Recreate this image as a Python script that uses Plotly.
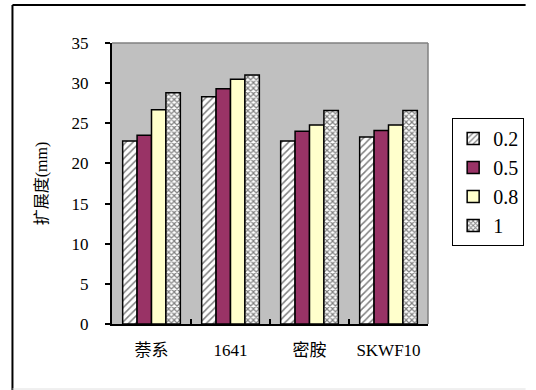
import plotly.graph_objects as go

# Spread (mm) by admixture type and dosage
categories = ["萘系", "1641", "密胺", "SKWF10"]
dosages = ["0.2", "0.5", "0.8", "1"]
spread_02 = [22.8, 28.3, 22.8, 23.3]
spread_05 = [23.5, 29.3, 24.0, 24.1]
spread_08 = [26.7, 30.5, 24.8, 24.8]
spread_10 = [28.8, 31.0, 26.6, 26.6]
y_ticks = [0, 5, 10, 15, 20, 25, 30, 35]

series = [spread_02, spread_05, spread_08, spread_10]
styles = [
    dict(color="white", pattern=dict(shape="/", fgcolor="black", size=5, solidity=0.3)),
    dict(color="#993366"),
    dict(color="#FFFFCC"),
    dict(color="white", pattern=dict(shape="x", fgcolor="black", size=4, solidity=0.5)),
]

W, H = 536, 390
L, R, T, B = 112, 439, 43, 324

FONT = "Liberation Serif, Noto Sans CJK SC, serif"

fig = go.Figure()
for i, (name, vals, st) in enumerate(zip(dosages, series, styles)):
    marker = dict(color=st["color"], line=dict(color="black", width=1.5))
    if "pattern" in st:
        marker["pattern"] = st["pattern"]
    fig.add_trace(go.Bar(
        x=categories, y=vals, name=name, marker=marker,
    ))

fig.update_layout(
    width=W, height=H,
    margin=dict(l=L, r=W - R, t=T, b=H - B, pad=0),
    paper_bgcolor="white",
    plot_bgcolor="#C0C0C0",
    barmode="group",
    bargap=0.27,
    bargroupgap=0,
    font=dict(family=FONT, size=17, color="black"),
    showlegend=True,
    legend=dict(
        x=(464 - L) / (R - L), xanchor="left",
        y=(B - 118) / (B - T), yanchor="top",
        bordercolor="black", borderwidth=1,
        bgcolor="white",
        font=dict(family=FONT, size=20),
        itemwidth=30,
    ),
    xaxis=dict(
        showline=True, linecolor="black", linewidth=2,
        ticks="inside", tickson="boundaries", ticklen=5,
        tickcolor="black", tickwidth=2,
        ticklabelstandoff=10,
        tickfont=dict(size=17),
        showgrid=False,
        mirror=False,
    ),
    yaxis=dict(
        range=[0, 35], tickvals=y_ticks,
        showline=True, linecolor="black", linewidth=2,
        ticks="outside", ticklen=5, tickcolor="black", tickwidth=2,
        ticklabelstandoff=13,
        tickfont=dict(size=17),
        showgrid=False, zeroline=False,
        title=dict(text="扩展度(mm)", font=dict(size=16), standoff=20),
    ),
    shapes=[
        # plot area frame (top / right edges)
        dict(type="line", xref="paper", yref="paper", x0=0, x1=1, y0=1, y1=1,
             line=dict(color="#808080", width=1.5)),
        dict(type="line", xref="paper", yref="paper", x0=1, x1=1, y0=0, y1=1,
             line=dict(color="#808080", width=1.5)),
        # chart area border
        dict(type="line", xref="paper", yref="paper",
             x0=(9 - L) / (R - L), x1=(540 - L) / (R - L),
             y0=(B - 5) / (B - T), y1=(B - 5) / (B - T),
             line=dict(color="black", width=2)),
        dict(type="line", xref="paper", yref="paper",
             x0=(9 - L) / (R - L), x1=(9 - L) / (R - L),
             y0=(B - 5) / (B - T), y1=(B - 395) / (B - T),
             line=dict(color="black", width=2)),
        dict(type="line", xref="paper", yref="paper",
             x0=(9 - L) / (R - L), x1=(540 - L) / (R - L),
             y0=(B - 389) / (B - T), y1=(B - 389) / (B - T),
             line=dict(color="#E0E0E0", width=1)),
    ],
)

fig.write_html("out.html")
